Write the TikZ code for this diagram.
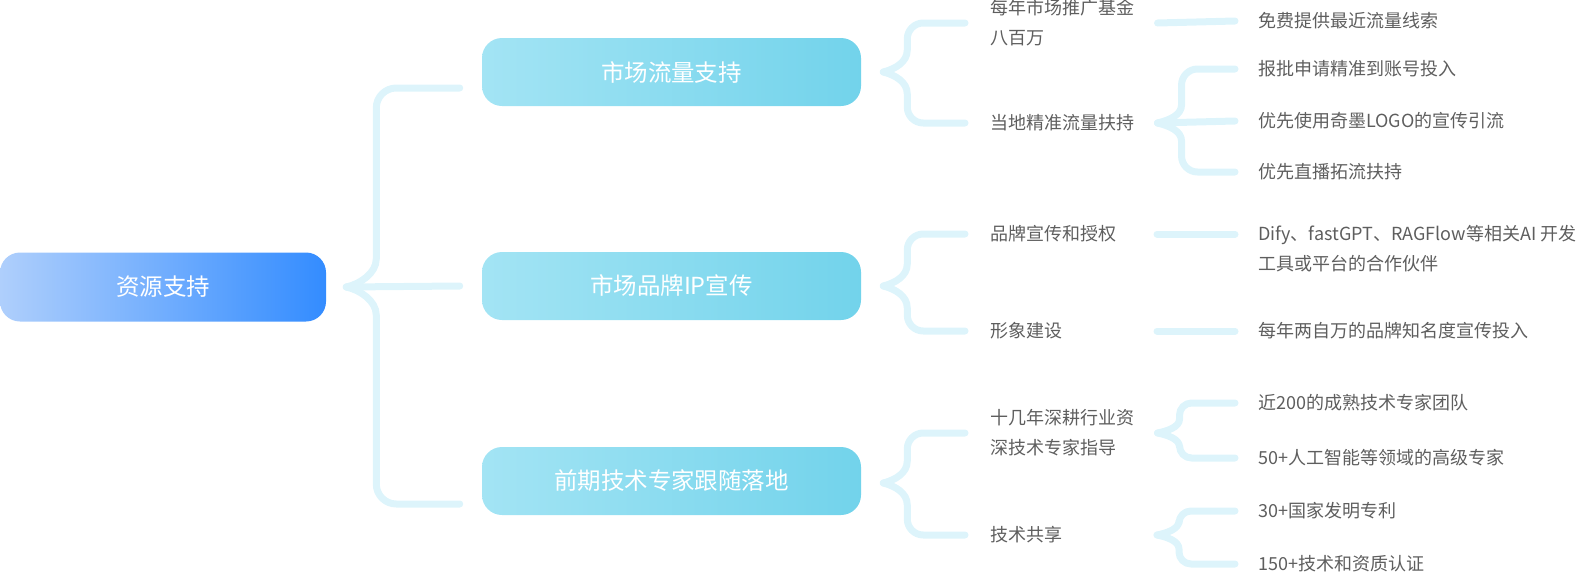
\documentclass[tikz,border=0pt]{standalone}
\usepackage{fontspec}
\setmainfont{Noto Sans CJK SC}
\usetikzlibrary{calc}
\definecolor{bracecyan}{HTML}{DDF4FB}
\definecolor{boxcyanl}{HTML}{A3E4F4}
\definecolor{boxcyanr}{HTML}{72D3EB}
\definecolor{rootl}{HTML}{AFCFFC}
\definecolor{rootr}{HTML}{338CFF}
\definecolor{txtgrey}{HTML}{5E5E5E}
\tikzset{
	brace/.style={draw=bracecyan, line width=5.25pt, line cap=round, line join=round},
	topic/.style={rounded corners=15pt, minimum height=51pt, inner sep=0pt, text=white,
		font=\fontsize{17.6pt}{20pt}\selectfont},
	sub/.style={anchor=west, inner sep=0pt, text=txtgrey, align=left,
		font=\fontsize{13.5pt}{22.5pt}\selectfont},
}
\begin{document}
\begin{tikzpicture}[x=0.75pt,y=-0.75pt]
		\useasboundingbox (0,0) rectangle (1595,575);

		% root and topics
		\node[topic, left color=rootl, right color=rootr, minimum width=244.5pt, minimum height=51.75pt] (root) at (163,287) {资源支持};
		\node[topic, left color=boxcyanl, right color=boxcyanr, minimum width=284.25pt] (m1) at (671.5,72) {市场流量支持};
		\node[topic, left color=boxcyanl, right color=boxcyanr, minimum width=284.25pt] (m2) at (671.5,286) {市场品牌IP宣传};
		\node[topic, left color=boxcyanl, right color=boxcyanr, minimum width=284.25pt] (m3) at (671.5,481) {前期技术专家跟随落地};

		% second level
		\node[sub] (l11) at (990,23) {每年市场推广基金\\八百万};
		\node[sub] (l12) at (990,123) {当地精准流量扶持};
		\node[sub] (l21) at (990,234) {品牌宣传和授权};
		\node[sub] (l22) at (990,331) {形象建设};
		\node[sub] (l31) at (990,433) {十几年深耕行业资\\深技术专家指导};
		\node[sub] (l32) at (990,535) {技术共享};

		% third level
		\node[sub] (f11) at (1258,21) {免费提供最近流量线索};
		\node[sub] (f121) at (1258,69) {报批申请精准到账号投入};
		\node[sub] (f122) at (1258,121) {优先使用奇墨LOGO的宣传引流};
		\node[sub] (f123) at (1258,172) {优先直播拓流扶持};
		\node[sub] (f21) at (1258,249) {Dify、fastGPT、RAGFlow等相关AI 开发\\工具或平台的合作伙伴};
		\node[sub] (f22) at (1258,331) {每年两自万的品牌知名度宣传投入};
		\node[sub] (f311) at (1258,403) {近200的成熟技术专家团队};
		\node[sub] (f312) at (1258,458) {50+人工智能等领域的高级专家};
		\node[sub] (f321) at (1258,511) {30+国家发明专利};
		\node[sub] (f322) at (1258,564) {150+技术和资质认证};

		% big brace
		\coordinate (b0) at ([xshift=15pt]root.east);
		\draw[brace] (b0) .. controls +(14,-3) and +(0,14) .. ($(b0)+(30,-28)$) [rounded corners=15pt] |- ([xshift=-16.5pt,yshift=-12pt]m1.west);
		\draw[brace] (b0) .. controls +(14,3) and +(0,-14) .. ($(b0)+(30,28)$) [rounded corners=15pt] |- ([xshift=-16.5pt,yshift=-17.25pt]m3.west);
		\draw[brace] (b0) -- ([xshift=-16.5pt]m2.west);

		% braces after topics
		\coordinate (b1) at ([xshift=16.5pt]m1.east);
		\coordinate (b2) at ([xshift=16.5pt]m2.east);
		\coordinate (b3) at ([xshift=16.5pt,yshift=-1.5pt]m3.east);
		\draw[brace] (b1) .. controls +(12,-3) and +(0,12) .. ($(b1)+(24,-22)$) [rounded corners=12pt] |- ([xshift=-18.75pt]l11.west);
		\draw[brace] (b1) .. controls +(12,3) and +(0,-12) .. ($(b1)+(24,22)$) [rounded corners=12pt] |- ([xshift=-18.75pt]l12.west);
		\draw[brace] (b2) .. controls +(12,-3) and +(0,12) .. ($(b2)+(24,-22)$) [rounded corners=12pt] |- ([xshift=-18.75pt]l21.west);
		\draw[brace] (b2) .. controls +(12,3) and +(0,-12) .. ($(b2)+(24,22)$) [rounded corners=12pt] |- ([xshift=-18.75pt]l22.west);
		\draw[brace] (b3) .. controls +(12,-3) and +(0,12) .. ($(b3)+(24,-22)$) [rounded corners=12pt] |- ([xshift=-18.75pt]l31.west);
		\draw[brace] (b3) .. controls +(12,3) and +(0,-12) .. ($(b3)+(24,22)$) [rounded corners=12pt] |- ([xshift=-18.75pt]l32.west);

		% third level links
		\draw[brace] ([xshift=17.25pt]l11.east) -- ([xshift=-17.25pt]f11.west);
		\draw[brace] (1157,0 |- l21.west) -- (1235,0 |- l21.west);
		\draw[brace] (1157,0 |- l22.west) -- ([xshift=-17.25pt]f22.west);

		\coordinate (b12) at ([xshift=17.25pt]l12.east);
		\draw[brace] (b12) .. controls +(12,-3) and +(0,10) .. ($(b12)+(24,-18)$) [rounded corners=12pt] |- ([xshift=-17.25pt]f121.west);
		\draw[brace] (b12) -- ([xshift=-17.25pt]f122.west);
		\draw[brace] (b12) .. controls +(12,3) and +(0,-10) .. ($(b12)+(24,18)$) [rounded corners=12pt] |- ([xshift=-17.25pt]f123.west);

		\coordinate (b31) at ([xshift=17.25pt]l31.east);
		\coordinate (b32) at (1157,0 |- l32.west);
		\draw[brace] (b31) .. controls +(10,-2) and +(0,8) .. ($(b31)+(22,-14)$) [rounded corners=9pt] |- ([xshift=-17.25pt]f311.west);
		\draw[brace] (b31) .. controls +(10,2) and +(0,-8) .. ($(b31)+(22,14)$) [rounded corners=9pt] |- ([xshift=-17.25pt]f312.west);
		\draw[brace] (b32) .. controls +(10,-2) and +(0,8) .. ($(b32)+(22,-14)$) [rounded corners=9pt] |- ([xshift=-17.25pt]f321.west);
		\draw[brace] (b32) .. controls +(10,2) and +(0,-8) .. ($(b32)+(22,14)$) [rounded corners=9pt] |- ([xshift=-17.25pt]f322.west);
\end{tikzpicture}
\end{document}
